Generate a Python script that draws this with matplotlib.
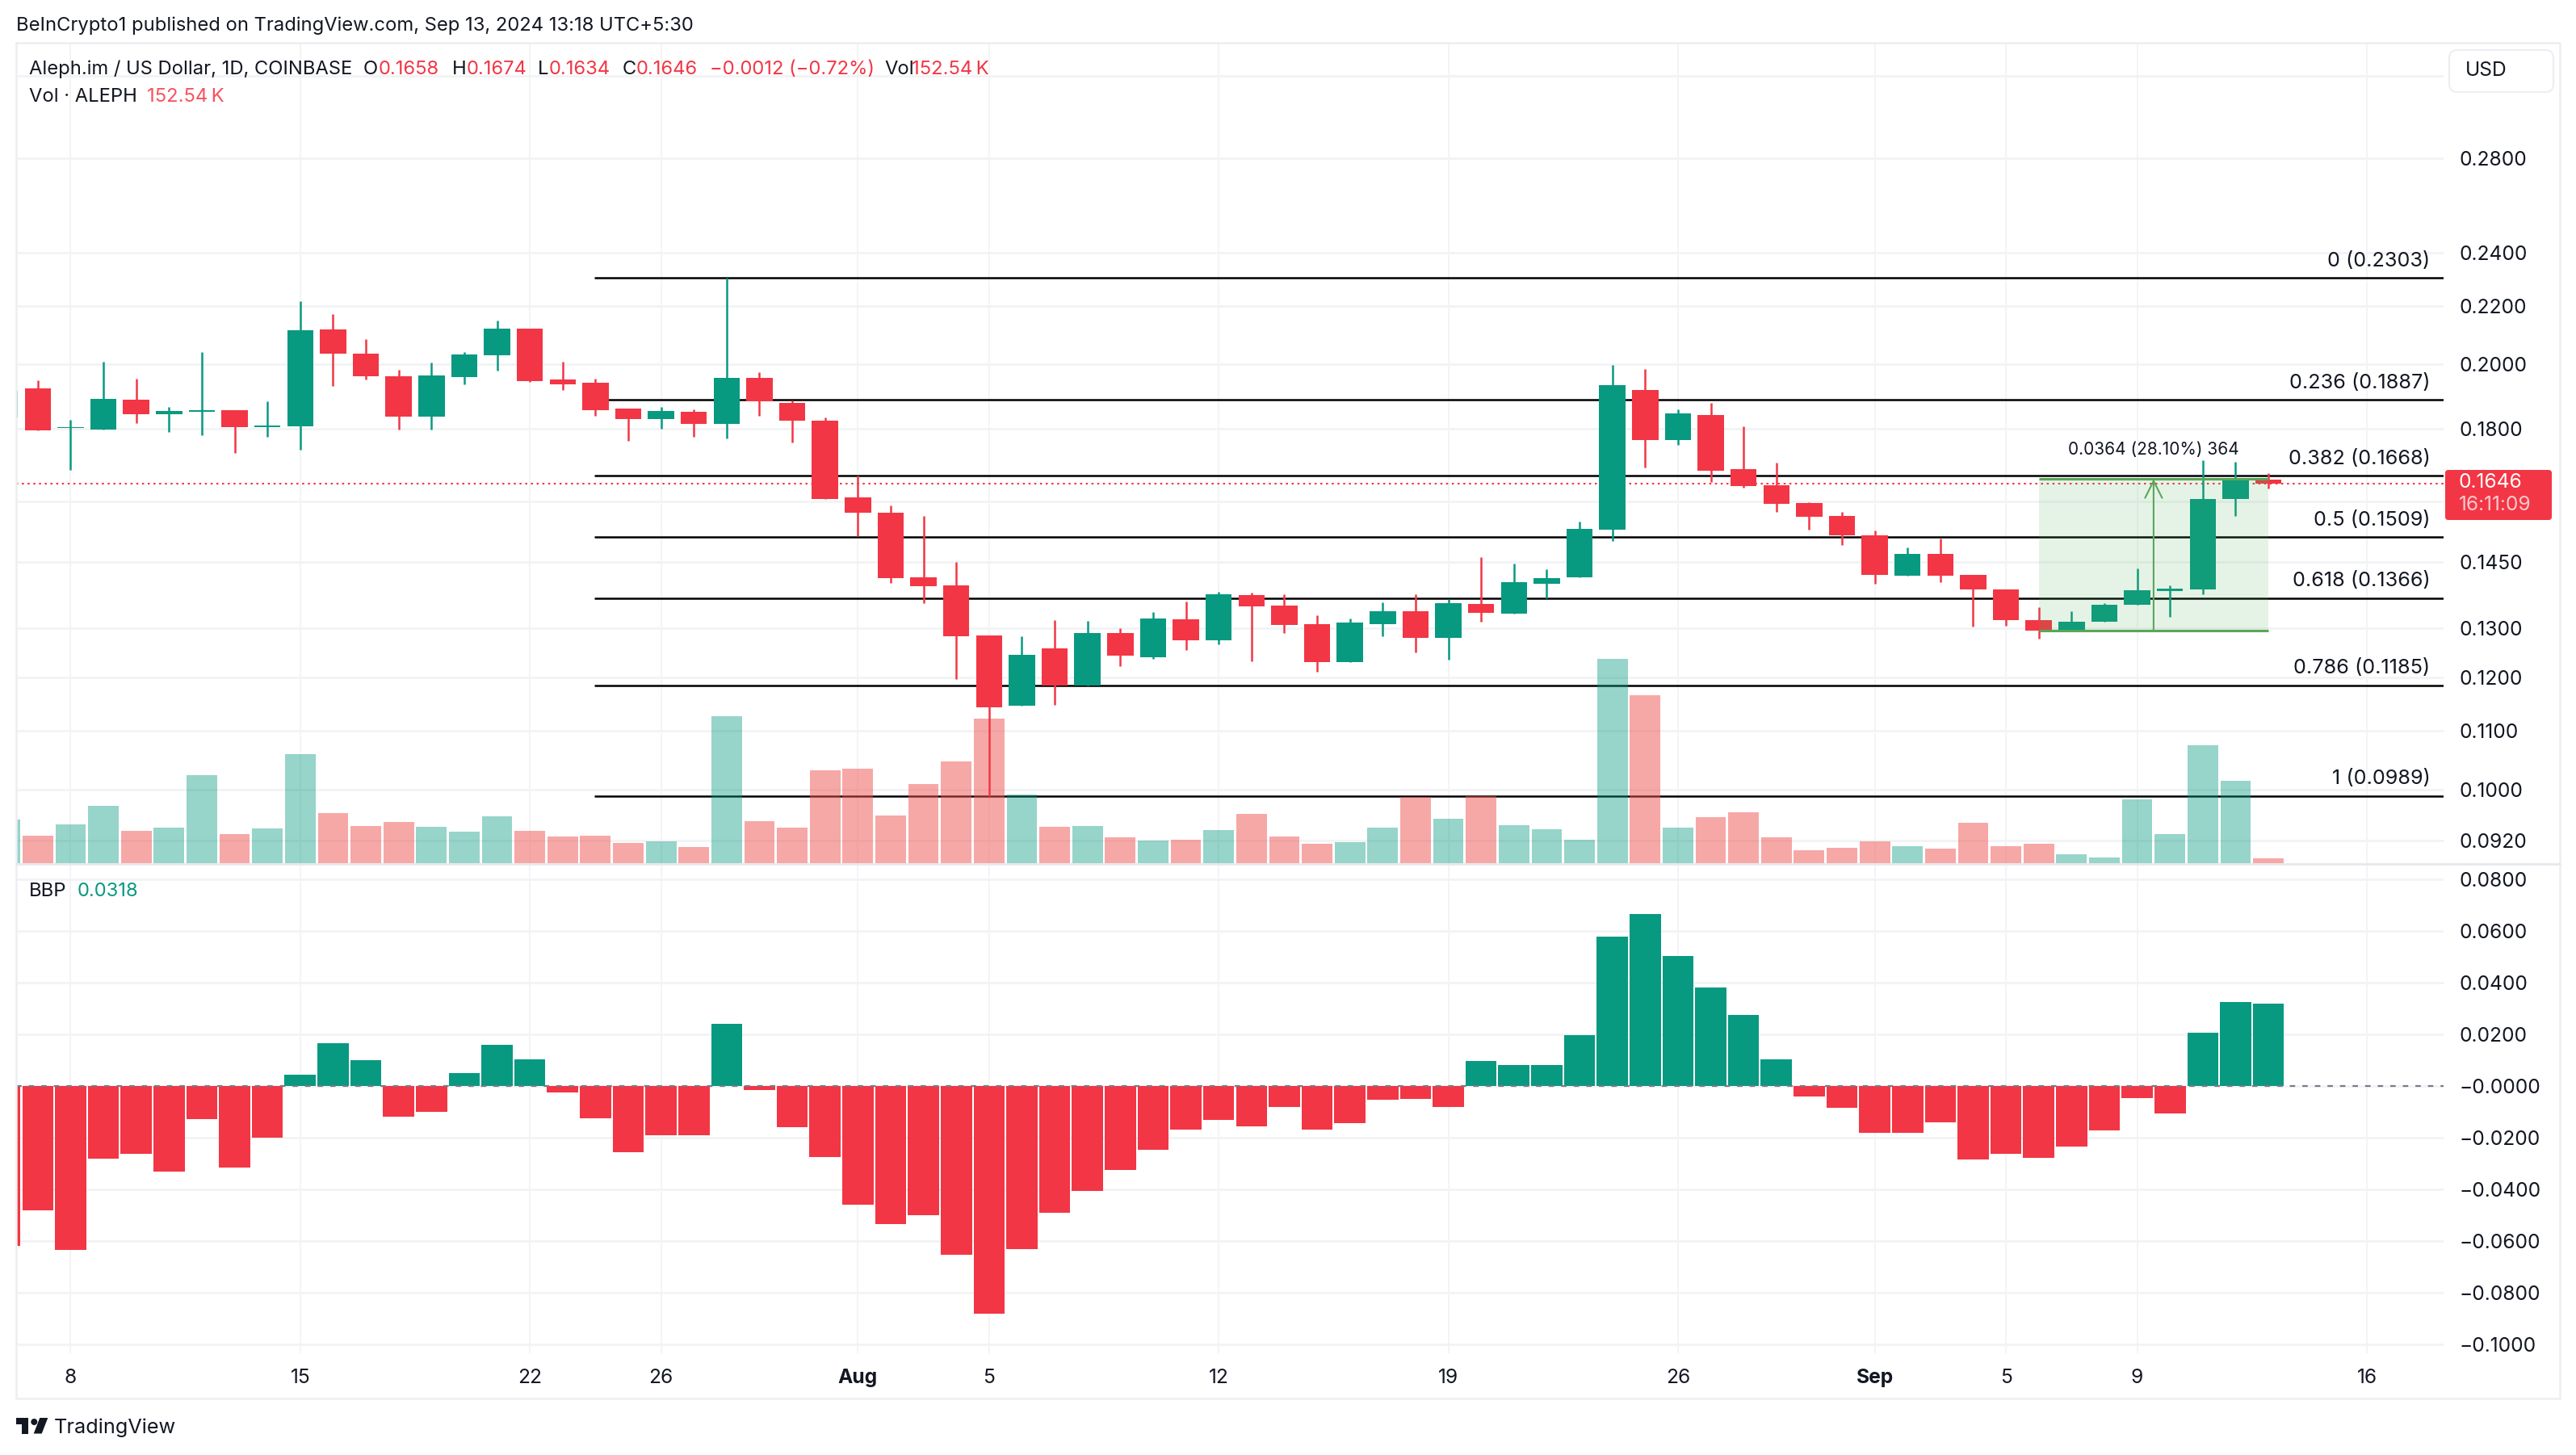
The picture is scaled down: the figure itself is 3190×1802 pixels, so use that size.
import math
import matplotlib
matplotlib.use("Agg")
import matplotlib.pyplot as plt
from matplotlib.colors import to_rgba
from matplotlib.patches import FancyBboxPatch, Rectangle, Polygon, Circle
from matplotlib.ticker import NullLocator

plt.rcParams['font.family'] = ['Inter', 'DejaVu Sans']

# ---- data ----
days = list(range(-2, 68))   # day offset from 8 Jul 2024
opens = [.1834,.1923,.1802,.1798,.1888,.1844,.1851,.1856,.1805,.1808,.2117,.2035,.1961,.1837,.1959,.2030,.2120,.1951,.1941,.1861,
         .1829,.1851,.1815,.1956,.1878,.1825,.1610,.1570,.1414,.1395,.1285,.1147,.1258,.1185,.1291,.1241,.1320,.1276,.1373,.1350,
         .1309,.1231,.1309,.1337,.1280,.1353,.1332,.1399,.1414,.1528,.1918,.1768,.1841,.1686,.1642,.1595,.1562,.1514,.1417,.1469,
         .1419,.1386,.1318,.1294,.1315,.1352,.1382,.1386,.1606,.1658]
highs = [.1950,.1950,.1827,.2009,.1954,.1866,.2041,.1856,.1883,.2218,.2171,.2084,.1982,.2006,.2040,.2148,.2120,.2009,.1954,.1861,
         .1866,.1858,.2303,.1975,.1886,.1834,.1668,.1589,.1563,.1449,.1285,.1284,.1318,.1316,.1301,.1336,.1359,.1381,.1379,.1375,
         .1328,.1322,.1357,.1375,.1364,.1461,.1445,.1432,.1548,.1998,.1985,.1858,.1878,.1808,.1703,.1597,.1572,.1526,.1484,.1505,
         .1419,.1386,.1346,.1338,.1355,.1434,.1395,.1711,.1707,.1674]
lows = [.1800,.1795,.1683,.1798,.1818,.1791,.1782,.1730,.1777,.1740,.1931,.1951,.1798,.1798,.1936,.1980,.1943,.1918,.1839,.1765,
        .1801,.1777,.1772,.1839,.1761,.1606,.1512,.1400,.1355,.1197,.0989,.1147,.1148,.1185,.1223,.1238,.1256,.1267,.1233,.1291,
        .1212,.1231,.1284,.1251,.1236,.1315,.1332,.1365,.1414,.1500,.1690,.1754,.1651,.1636,.1572,.1528,.1490,.1398,.1417,.1402,
        .1304,.1306,.1279,.1294,.1315,.1352,.1325,.1375,.1562,.1634]
closes = [.1916,.1796,.1806,.1891,.1844,.1854,.1856,.1805,.1810,.2114,.2035,.1961,.1837,.1964,.2033,.2120,.1946,.1936,.1856,.1829,
          .1854,.1815,.1956,.1883,.1825,.1606,.1570,.1412,.1393,.1284,.1144,.1246,.1185,.1291,.1244,.1322,.1276,.1375,.1348,.1308,
          .1231,.1313,.1337,.1281,.1355,.1334,.1402,.1412,.1530,.1933,.1768,.1846,.1682,.1640,.1593,.1560,.1514,.1419,.1469,.1417,
          .1386,.1318,.1296,.1315,.1352,.1384,.1388,.1606,.1658,.1646]
volumes = [1318,830,1171,1732,976,1074,2660,878,1049,3294,1513,1122,1244,1098,952,1415,976,805,830,610,
           659,488,4441,1269,1074,2806,2855,1440,2391,3074,4368,2074,1098,1122,781,683,708,1000,1488,805,
           586,634,1074,2001,1342,2025,1147,1025,708,6173,5075,1074,1391,1537,781,390,464,659,512,439,
           1220,512,586,268,171,1928,878,3562,2489,152.54]
bbp = [-.0619,-.0481,-.0634,-.0281,-.0262,-.0331,-.0128,-.0317,-.0200,.0043,.0165,.0099,-.0118,-.0101,.0049,.0158,.0102,-.0026,-.0124,-.0256,
       -.0190,-.0190,.0240,-.0014,-.0158,-.0276,-.0459,-.0534,-.0500,-.0652,-.0881,-.0631,-.0489,-.0406,-.0324,-.0246,-.0168,-.0131,-.0156,-.0081,
       -.0168,-.0144,-.0052,-.0049,-.0081,.0096,.0081,.0081,.0197,.0577,.0665,.0502,.0380,.0275,.0102,-.0040,-.0084,-.0180,-.0180,-.0140,
       -.0284,-.0262,-.0278,-.0233,-.0171,-.0046,-.0105,.0206,.0324,.0318]
fib_levels = ['0', '0.236', '0.382', '0.5', '0.618', '0.786', '1']
fib_prices = [.2303, .1887, .1668, .1509, .1366, .1185, .0989]
price_ticks = [.32, .28, .24, .22, .20, .18, .16, .145, .13, .12, .11, .10, .092]
price_labels = ['', '0.2800', '0.2400', '0.2200', '0.2000', '0.1800', '', '0.1450', '0.1300', '0.1200', '0.1100', '0.1000', '0.0920']
bbp_ticks = [.08, .06, .04, .02, 0, -.02, -.04, -.06, -.08, -.10]
bbp_labels = ['0.0800', '0.0600', '0.0400', '0.0200', '\u22120.0000', '\u22120.0200', '\u22120.0400', '\u22120.0600', '\u22120.0800', '\u22120.1000']
x_ticks = [0, 7, 14, 18, 24, 28, 35, 42, 49, 55, 59, 63, 70]
x_labels = ['8', '15', '22', '26', 'Aug', '5', '12', '19', '26', 'Sep', '5', '9', '16']
last_price = .1646
box_start, box_end, box_mid = 60, 67, 63.5
box_low, box_high = .1295, .1659

GREEN, RED = '#089981', '#f23645'
VOL_GREEN, VOL_RED = to_rgba('#089981', .42), to_rgba('#ef5350', .5)
TXT = '#131722'
GRID = '#f2f3f5'
FS = 17.7
LEG = 17.1
W, H = 3190, 1802
fig = plt.figure(figsize=(W/100, H/100), dpi=100, facecolor='white')

def axes_px(x0, y0, x1, y1, **kw):
    return fig.add_axes([x0/W, 1-y1/H, (x1-x0)/W, (y1-y0)/H], **kw)

L, R = 20, 3026
xlim = (-1.66, 72.34)
# price scale calibrated on the tick labels of the reference
def p_at(y):
    return .2*math.exp(-(y-451.3)/759.4)
plim = (p_at(1070), p_at(53))

ax_back = axes_px(L, 53, R, 1070)
ax_vol = axes_px(L, 53, R, 1070, sharex=ax_back)
ax_pr = axes_px(L, 53, R, 1070, sharex=ax_back)
ax_bb = axes_px(L, 1072, R, 1676, sharex=ax_back)
ax_back.set_zorder(1); ax_vol.set_zorder(2); ax_pr.set_zorder(3); ax_bb.set_zorder(1)

for a in (ax_back, ax_pr):
    a.set_yscale('log')
    a.set_ylim(*plim)
ax_back.set_xlim(*xlim)
ax_vol.set_ylim(-24, 24790)
ax_bb.set_ylim(-.1034, .0853)

for a in (ax_back, ax_vol, ax_pr, ax_bb):
    for s in a.spines.values():
        s.set_visible(False)
    a.tick_params(length=0, which='both')
ax_vol.patch.set_alpha(0); ax_pr.patch.set_alpha(0)
ax_vol.yaxis.set_visible(False)

# grid
for t in x_ticks:
    ax_back.axvline(t, color=GRID, lw=1.3, zorder=0)
    ax_bb.axvline(t, color=GRID, lw=1.3, zorder=0)
for t in price_ticks:
    ax_back.axhline(t, color=GRID, lw=2, zorder=0)
for t in bbp_ticks:
    ax_bb.axhline(t, color=GRID, lw=2, zorder=0)
ax_back.tick_params(labelbottom=False, labelleft=False)
ax_back.yaxis.set_minor_locator(NullLocator())
ax_back.set_yticks([])

# fib lines
for p in fib_prices:
    ax_back.plot([15.96, xlim[1]], [p, p], color='black', lw=1.8, zorder=2, solid_capstyle='butt')
ax_back.axhline(last_price, color=RED, lw=1.5, ls=(0, (1.2, 2.2)), zorder=1)

# volume
colors = [GREEN if c >= o else RED for o, c in zip(opens, closes)]
vol_cols = [VOL_GREEN if c >= o else VOL_RED for o, c in zip(opens, closes)]
ax_vol.bar(days, volumes, width=.93, color=vol_cols, linewidth=0)
ax_vol.tick_params(labelbottom=False)

# candles
ax_pr.vlines(days, lows, highs, colors=colors, lw=1.8, zorder=3)
ax_pr.bar(days, [abs(c-o) for o, c in zip(opens, closes)], bottom=[min(o, c) for o, c in zip(opens, closes)],
          width=.8, color=colors, linewidth=0, zorder=4)
ax_pr.yaxis.tick_right()
ax_pr.set_yticks(price_ticks)
ax_pr.set_yticklabels(price_labels, fontsize=FS, color=TXT)
ax_pr.yaxis.set_minor_locator(NullLocator())
ax_pr.tick_params(axis='y', which='both', pad=13.7, length=0)
ax_pr.tick_params(axis='x', labelbottom=False)

# long/short measure box
GBOX = '#4caf50'
ax_pr.fill_between([box_start, box_end], box_low, box_high, color=GBOX, alpha=.14, linewidth=0, zorder=5)
ax_pr.plot([box_start, box_end], [box_high, box_high], color='#5aa65a', lw=2.2, zorder=6, solid_capstyle='butt')
ax_pr.plot([box_start, box_end], [box_low, box_low], color='#5aa65a', lw=2.2, zorder=6, solid_capstyle='butt')
ax_pr.annotate('', xy=(box_mid, box_high), xytext=(box_mid, box_low), zorder=6,
               arrowprops=dict(arrowstyle='->', color='#5aa65a', lw=1.5, mutation_scale=38, shrinkA=0, shrinkB=0))
ax_pr.annotate('0.0364 (28.10%) 364', xy=(box_mid, box_high), xytext=(0, 26), textcoords='offset points',
               ha='center', va='center', fontsize=15, color=TXT, zorder=7)

# fib labels
for lv, p in zip(fib_levels, fib_prices):
    ax_pr.annotate(f'{lv} ({p:.4f})', xy=(71.93, p), xytext=(0, 15.2), textcoords='offset points',
                   ha='right', va='center', fontsize=18.2, color=TXT, zorder=7)

# BBP histogram
bb_cols = [GREEN if v >= 0 else RED for v in bbp]
ax_bb.bar(days, bbp, width=.95, color=bb_cols, linewidth=0, zorder=2)
ax_bb.plot(xlim, [0, 0], color='#787b86', lw=1.6, ls=(0, (3, 4)), zorder=3)
ax_bb.yaxis.tick_right()
ax_bb.set_yticks(bbp_ticks)
ax_bb.set_yticklabels(bbp_labels, fontsize=FS, color=TXT)
ax_bb.tick_params(axis='y', pad=13.7)
ax_bb.set_xticks(x_ticks)
ax_bb.set_xticklabels(x_labels, fontsize=FS, color=TXT)
for lab, txt in zip(ax_bb.get_xticklabels(), x_labels):
    if txt in ('Aug', 'Sep'):
        lab.set_fontweight('bold')
ax_bb.tick_params(axis='x', pad=14)
ax_bb.set_xlim(*xlim)

# overlay chrome in pixel coordinates
ov = fig.add_axes([0, 0, 1, 1], zorder=10)
ov.set_xlim(0, W); ov.set_ylim(H, 0); ov.axis('off'); ov.patch.set_alpha(0)
BORDER = '#eceef2'
ov.plot([L, 3170, 3170, L, L], [53, 53, 1732, 1732, 53], color=BORDER, lw=1.8)
ov.plot([L, 3170], [1070, 1070], color='#e6e8ee', lw=2)

ov.add_patch(FancyBboxPatch((3028, 582), 132, 62, boxstyle='round,pad=0,rounding_size=4', fc=RED, ec='none'))
ov.text(3045, 598, '0.1646', color='white', fontsize=FS, va='center')
ov.text(3045, 626, '16:11:09', color='#fbc9cd', fontsize=FS, va='center')
ov.add_patch(FancyBboxPatch((3033, 62), 129, 52, boxstyle='round,pad=0,rounding_size=10', fc='white', ec=BORDER, lw=1.5))
ov.text(3053, 88, 'USD', color=TXT, fontsize=FS, va='center')

ov.text(20, 32, 'BeInCrypto1 published on TradingView.com, Sep 13, 2024 13:18 UTC+5:30', color=TXT, fontsize=LEG, va='center')

row = [(36, 'Aleph.im / US Dollar, 1D, COINBASE', TXT), (450, 'O', TXT), (469, '0.1658', RED), (560, 'H', TXT), (578, '0.1674', RED),
       (666, 'L', TXT), (680, '0.1634', RED), (771, 'C', TXT), (788, '0.1646', RED), (879, '\u22120.0012 (\u22120.72%)', RED),
       (1095, 'Vol', TXT), (1129, '152.54\u2009K', RED)]
for x, s, c in row:
    ov.text(x, 86, s, color=c, fontsize=LEG, va='center')
ov.text(36, 120, 'Vol \u00b7 ALEPH', color=TXT, fontsize=LEG, va='center')
ov.text(182, 120, '152.54\u2009K', color='#f7525f', fontsize=LEG, va='center')
ov.text(36, 1104, 'BBP', color=TXT, fontsize=LEG, va='center')
ov.text(96, 1104, '0.0318', color=GREEN, fontsize=LEG, va='center')

# TradingView logo and name
K = '#131722'
ov.add_patch(Rectangle((20, 1756), 15, 7.5, fc=K, ec='none'))
ov.add_patch(Rectangle((27, 1756), 8, 19.5, fc=K, ec='none'))
ov.add_patch(Circle((42.3, 1761), 4, fc=K, ec='none'))
ov.add_patch(Polygon([(49.3, 1756), (59.3, 1756), (51.7, 1775.5), (41.7, 1775.5)], fc=K, ec='none'))
ov.text(67, 1768, 'TradingView', color=K, fontsize=18.2, va='center')

fig.savefig('out.png', dpi=100, facecolor='white')
